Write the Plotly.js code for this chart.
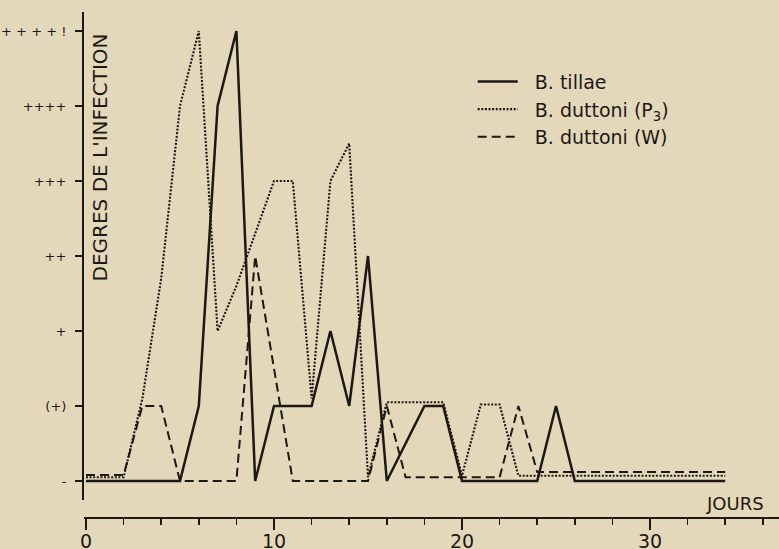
<!DOCTYPE html>
<html>
<head>
<meta charset="utf-8">
<script src="https://cdn.plot.ly/plotly-3.0.1.min.js"></script>
<style>
html,body{margin:0;padding:0;background:#e4d8ba;}
#chart{width:779px;height:549px;}
</style>
</head>
<body>
<div id="chart"></div>
<script>
// Infection grade levels (index 0..6) and their labels
const levelValues = [0, 1, 2, 3, 4, 5, 6];
const levelLabels = ["-", "(+)", "+", "++", "+++", "++++", "+ + + + !"];

// Series names
const seriesNames = ["\u00a0\u00a0B. tillae", "\u00a0\u00a0B. duttoni (P<sub>3</sub>)", "\u00a0\u00a0B. duttoni (W)"];

// B. tillae (solid)
const tillaeDays  = [0, 5, 6, 7, 8, 9, 10, 12, 13, 14, 15, 16, 18, 19, 20, 24, 25, 26, 34];
const tillaeLevel = [0, 0, 1, 5, 6, 0, 1, 1, 2, 1, 3, 0, 1, 1, 0, 0, 1, 0, 0];

// B. duttoni (P3) (dotted)
const p3Days  = [0, 2, 3, 4, 5, 6, 7, 8, 9, 10, 11, 12, 13, 14, 15, 16, 19, 20, 21, 22, 23, 34];
const p3Level = [0.05, 0.05, 1.1, 2.7, 5.0, 6.0, 2.0, 2.6, 3.3, 4.0, 4.0, 1.1, 4.0, 4.5, 0.05, 1.05, 1.05, 0.07, 1.02, 1.02, 0.07, 0.07];

// B. duttoni (W) (dashed)
const wDays  = [0, 2, 3, 4, 5, 8, 9, 11, 15, 16, 17, 22, 23, 24, 34];
const wLevel = [0.08, 0.08, 1, 1, 0, 0, 3, 0, 0, 1, 0.05, 0.05, 1, 0.12, 0.12];

// Axis tick values
const xMajorTicks = [0, 10, 20, 30];

const ink = "#1c1814";
const bg = "#e4d8ba";

const traces = [
  {x: tillaeDays, y: tillaeLevel, name: seriesNames[0], mode: "lines", legendgroup: "a",
   line: {color: ink, width: 2.5, dash: "solid"}},
  {x: p3Days, y: p3Level, name: seriesNames[1], mode: "lines", legendgroup: "b",
   line: {color: ink, width: 2.1, dash: "2px,1.6px"}},
  {x: wDays, y: wLevel, name: seriesNames[2], mode: "lines", legendgroup: "c",
   line: {color: ink, width: 2, dash: "9px,5px"}}
];

const layout = {
  width: 779, height: 549,
  margin: {l: 84, r: 0, t: 12, b: 31, pad: 0},
  paper_bgcolor: bg, plot_bgcolor: bg,
  font: {family: "DejaVu Sans", color: ink},
  showlegend: true,
  legend: {
    x: 0.5593, y: 0.900, xanchor: "left", yanchor: "top",
    bgcolor: "rgba(0,0,0,0)", borderwidth: 0,
    font: {family: "DejaVu Sans", size: 19, color: ink},
    tracegroupgap: 0, itemwidth: 40
  },
  xaxis: {
    range: [-0.106, 36.86],
    anchor: "free", position: 0,
    showline: true, linecolor: ink, linewidth: 2,
    showgrid: false, zeroline: false,
    tickmode: "array", tickvals: xMajorTicks,
    ticks: "outside", ticklen: 11, tickwidth: 2, tickcolor: ink,
    ticklabelstandoff: -5,
    minor: {dtick: 2, tick0: 0, ticks: "outside", ticklen: 6, tickwidth: 1.5, tickcolor: ink, showgrid: false},
    tickfont: {family: "DejaVu Sans", size: 19, color: ink}
  },
  yaxis: {
    domain: [0.0356, 1],
    range: [-0.253, 6.253],
    showline: true, linecolor: ink, linewidth: 2,
    showgrid: false, zeroline: false,
    tickmode: "array", tickvals: levelValues, ticktext: levelLabels,
    ticks: "outside", ticklen: 7, tickwidth: 1.5, tickcolor: ink,
    ticklabelstandoff: 6,
    tickfont: {family: "DejaVu Sans", size: 13, color: ink}
  },
  annotations: [
    {text: "DEGRES DE L'INFECTION", textangle: -90, xref: "paper", yref: "paper",
     x: 0.023, y: 0.7125, xanchor: "center", yanchor: "middle", showarrow: false,
     font: {family: "DejaVu Sans", size: 20, color: ink}},
    {text: "JOURS", xref: "paper", yref: "paper", x: 0.937, y: 0.0296,
     xanchor: "center", yanchor: "middle", showarrow: false,
     font: {family: "DejaVu Sans", size: 18, color: ink}}
  ]
};

Plotly.newPlot("chart", traces, layout, {displayModeBar: false, staticPlot: true});
</script>
</body>
</html>
